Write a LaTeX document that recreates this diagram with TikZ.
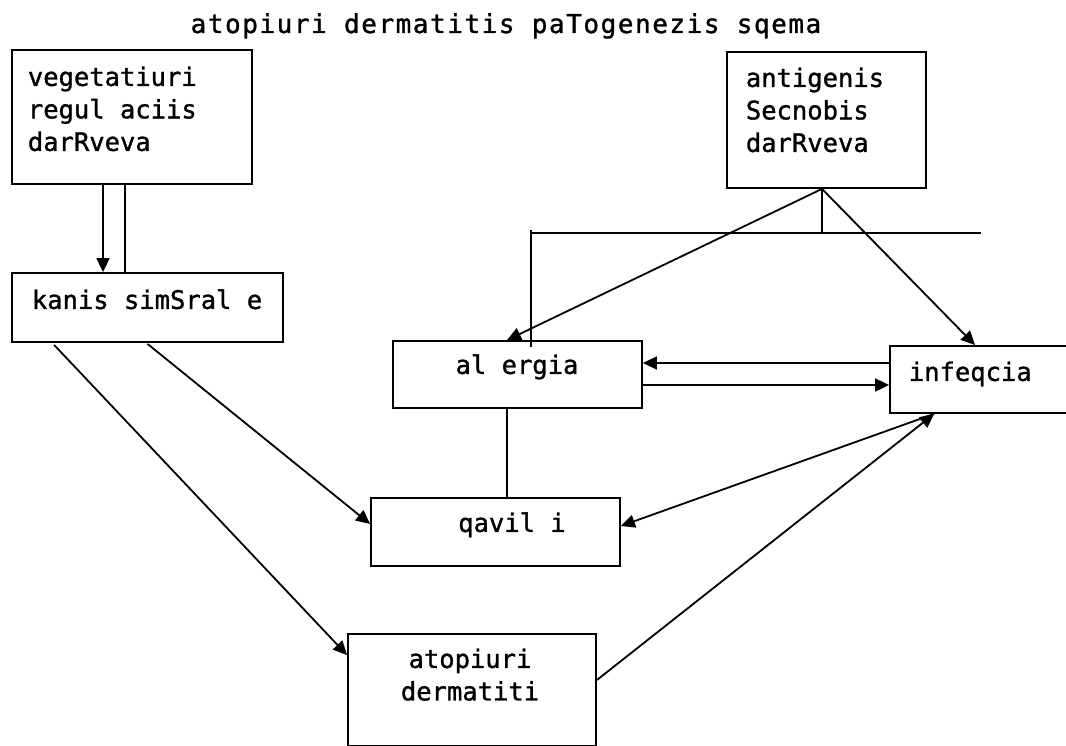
\documentclass[tikz,border=0pt]{standalone}
\usepackage{fontspec}
\usetikzlibrary{arrows.meta}
\newfontfamily\dfont[FakeBold=1.2]{DejaVu Sans Mono}
\newfontfamily\tfont[LetterSpace=6,FakeBold=1.2]{DejaVu Sans Mono}
% zero-width strut that fixes the top of a text block above its first baseline
\newcommand\lnhead{\rule{0pt}{20pt}}

\begin{document}
\begin{tikzpicture}[x=1pt,y=-1pt,line width=1.8pt,
  box/.style={draw, rectangle, inner sep=0pt},
  lbl/.style={inner sep=0pt, font=\dfont\fontsize{25.5}{32.5}\selectfont},
  lblL/.style={lbl, anchor=north west, align=left},
  lblC/.style={lbl, anchor=north, align=center},
  arr/.style={-{Triangle[length=14pt,width=13pt]}}]

\clip (0,0) rectangle (1066,746);
\fill[white] (0,0) rectangle (1066,746);

% title
\node[inner sep=0pt, anchor=base, font=\tfont\fontsize{26}{30}\selectfont] (title) at (506,33)
  {atopiuri dermatitis paTogenezis sqema};

% boxes
\node[box, minimum width=240pt, minimum height=134pt] (veg) at (132,117) {};
\node[box, minimum width=199pt, minimum height=136pt] (ant) at (826.5,120) {};
\node[box, minimum width=271pt, minimum height=69pt]  (kan) at (147.5,307.5) {};
\node[box, minimum width=249pt, minimum height=67pt]  (ale) at (517.5,374.5) {};
\node[box, minimum width=190pt, minimum height=67pt]  (inf) at (985,379.5) {};
\node[box, minimum width=249pt, minimum height=68pt]  (qav) at (495.5,532) {};
\node[box, minimum width=248pt, minimum height=112pt] (ato) at (472,690) {};

% box texts
\node[lblL] (vegT) at (27,65)  {\lnhead vegetatiuri\\regul aciis\\darRveva};
\node[lblL] (antT) at (745,66) {\lnhead antigenis\\Secnobis\\darRveva};
\node[lblL] (kanT) at (31,288) {\lnhead kanis simSral e};
\node[lblC] (aleT) at (517,353) {\lnhead al ergia};
\node[lblL] (infT) at (908,360) {\lnhead infeqcia};
\node[lblC] (qavT) at (512,511) {\lnhead qavil i};
\node[lblC] (atoT) at (470,647) {\lnhead atopiuri\\dermatiti};

% helper points
\coordinate (hub)  at ([xshift=-4.5pt]ant.south);
\coordinate (barL) at (531,233);
\coordinate (barR) at (981,233);

% connectors
\draw[arr] ([xshift=-29pt]veg.south) -- ([xshift=-44.5pt]kan.north);
\draw ([xshift=-7pt]veg.south) -- ([xshift=-22.5pt,yshift=-2pt]kan.north);
\draw[arr] ([xshift=43pt,yshift=-2pt]kan.south west) -- ([yshift=-22pt]ato.north west);
\draw[arr] ([yshift=-1pt]kan.south) -- ([yshift=8pt]qav.west);

\draw[arr] (hub) -- ([xshift=-10.5pt]ale.north);
\draw[arr] (hub) -- ([xshift=-10pt]inf.north);
\draw (hub) -- (hub |- barL);
\draw (barL) -- (barR);
\draw ([yshift=3pt]barL) -- ([yshift=-114pt]barL);

\draw[arr] ([yshift=16.5pt]inf.west) -- ([yshift=11.5pt]ale.east);
\draw[arr] ([yshift=-10.5pt]ale.east) -- ([yshift=-5.5pt]inf.west);
\draw ([xshift=-10.5pt]ale.south) -- ([xshift=11.5pt]qav.north);

\draw[arr] ([xshift=45pt]inf.south west) -- ([yshift=6pt]qav.east);
\draw[arr] ([yshift=10pt]ato.east) -- ([xshift=45pt]inf.south west);
\end{tikzpicture}
\end{document}
